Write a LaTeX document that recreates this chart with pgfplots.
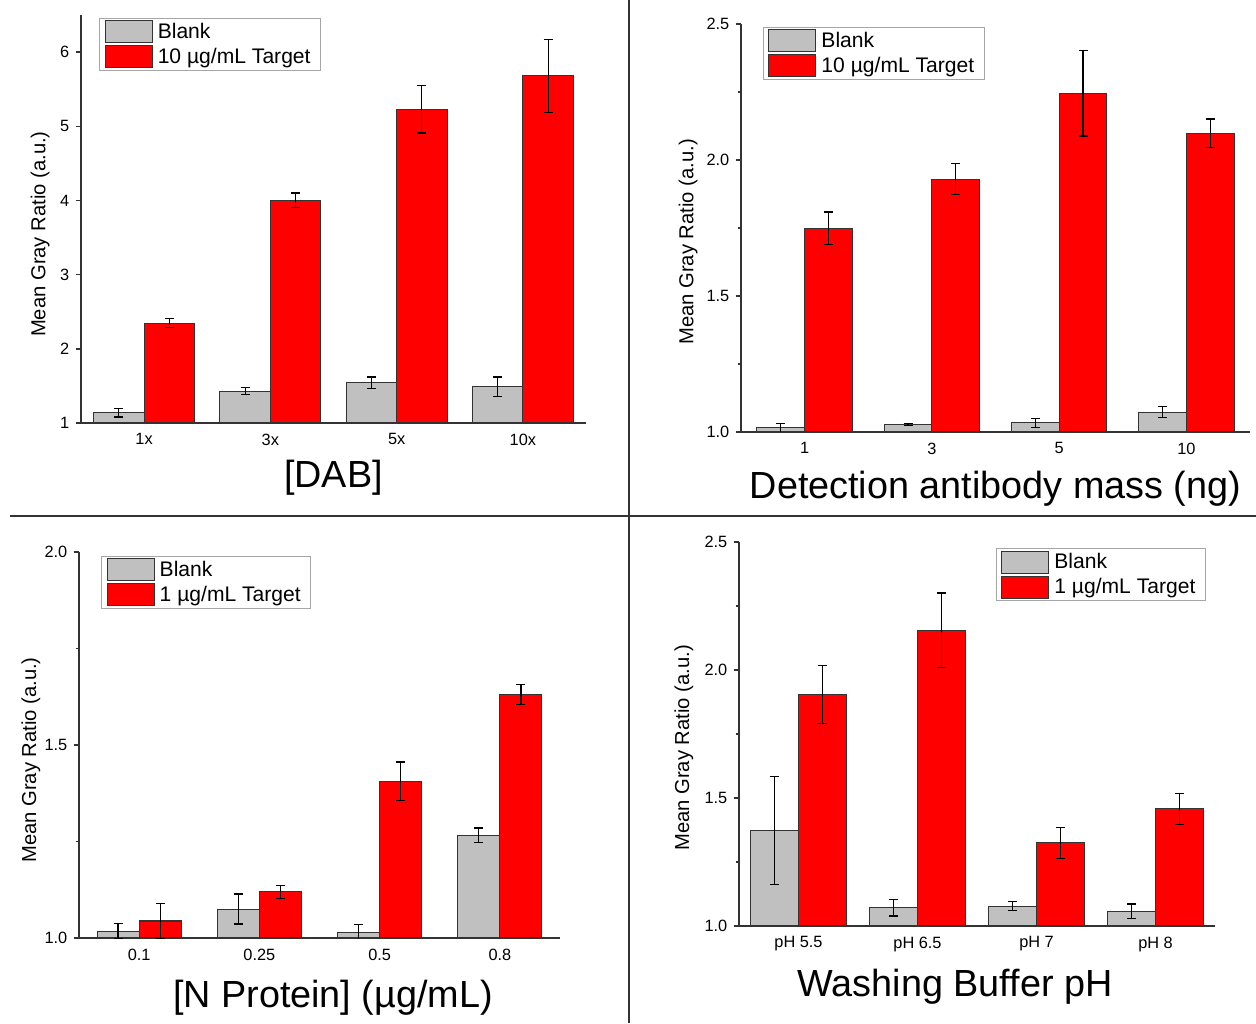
\documentclass[border=0pt]{standalone}
\usepackage{fontspec}
\setmainfont{Liberation Sans}
\usepackage{pgfplots}
\pgfplotsset{compat=1.18}
\definecolor{blankgray}{HTML}{C0C0C0}
\definecolor{targetred}{HTML}{FF0000}
\definecolor{axisgray}{HTML}{333333}

\pgfplotsset{
  panel/.style={
    scale only axis,
    anchor=south west,
    axis lines*=left,
    axis line style={draw=axisgray,line width=0.9pt},
    xmin=-0.5,xmax=3.5,ymin=1,
    xtick={0,1,2,3},
    xtick style={draw=none},
    ytick style={draw=axisgray,line width=0.8pt},
    tick align=outside,
    major tick length=0.11cm,
    minor tick length=0.07cm,
    /pgf/number format/assume math mode=true,
    tick label style={font=\fontsize{9.3}{11}\selectfont},
    xticklabel style={yshift=0.02cm},
    ylabel={Mean Gray Ratio (a.u.)},
    y label style={font=\fontsize{11.5}{13}\selectfont,anchor=center},
    x label style={font=\fontsize{21.5}{24}\selectfont,anchor=center},
    legend cell align=left,
    legend image code/.code={\draw[#1,draw=axisgray,line width=0.6pt] (0cm,-0.22cm) rectangle (0.94cm,0.22cm);},
    legend style={draw=gray!70,line width=0.6pt,font=\fontsize{12}{14}\selectfont,
      inner xsep=0.1cm,inner ysep=0.04cm,row sep=0.04cm,
      nodes={inner ysep=0.03cm,inner xsep=0.1cm}},
    error bars/y dir=both,
    error bars/y explicit,
    error bars/error bar style={black,line width=0.7pt},
    error bars/error mark options={rotate=90,black,mark size=0.09cm,line width=0.7pt},
  },
  blank/.style={ybar,bar shift=0pt,fill=blankgray,draw=axisgray,line width=0.6pt},
  target/.style={ybar,bar shift=0pt,fill=targetred,draw=axisgray,line width=0.6pt},
}

\begin{document}
\begin{tikzpicture}
\path[use as bounding box] (0,0) rectangle (25.12,20.46);

% panel dividers
\draw[axisgray,line width=0.7pt] (12.58,0) -- (12.58,20.46);
\draw[axisgray,line width=0.7pt] (0.2,10.14) -- (25.12,10.14);

% top left: DAB
\begin{axis}[panel,at={(1.62cm,12.0cm)},width=10.1cm,height=8.16cm,
  ymax=6.5,ytick={1,2,3,4,5,6},
  xticklabels={1x,3x,5x,10x},
  bar width=0.4,
  xlabel={[DAB]},
  x label style={at={(axis description cs:0.5,-0.135)}},
  y label style={at={(axis description cs:-0.081,0.463)}},
  legend style={at={(0.036,0.993)},anchor=north west}]
\addplot[blank] table[x=x,y=y,y error=e] {
x y e
-0.2 1.14 0.06
0.8 1.43 0.05
1.8 1.54 0.08
2.8 1.49 0.13
};
\addplot[target] table[x=x,y=y,y error=e] {
x y e
0.2 2.345 0.06
1.2 4.00 0.10
2.2 5.23 0.32
3.2 5.68 0.49
};
\legend{Blank,10 µg/mL Target}
\end{axis}

% top right: detection antibody mass
\begin{axis}[panel,at={(14.82cm,11.82cm)},width=10.18cm,height=8.16cm,
  ymax=2.5,ytick={1,1.5,2,2.5},minor ytick={1.25,1.75,2.25},
  yticklabel style={/pgf/number format/fixed,/pgf/number format/fixed zerofill,/pgf/number format/precision=1},
  xticklabels={1,3,5,10},
  bar width=0.375,
  xlabel={Detection antibody mass (ng)},
  x label style={at={(axis description cs:0.5,-0.14)}},
  y label style={at={(axis description cs:-0.104,0.466)}},
  legend style={at={(0.043,0.993)},anchor=north west}]
\addplot[blank] table[x=x,y=y,y error=e] {
x y e
-0.1875 1.015 0.017
0.8125 1.027 0.003
1.8125 1.034 0.017
2.8125 1.073 0.020
};
\addplot[target] table[x=x,y=y,y error=e] {
x y e
0.1875 1.749 0.060
1.1875 1.930 0.058
2.1875 2.245 0.157
3.1875 2.099 0.052
};
\legend{Blank,10 µg/mL Target}
\end{axis}

% bottom left: N protein
\begin{axis}[panel,at={(1.58cm,1.70cm)},width=9.62cm,height=7.72cm,
  ymax=2,ytick={1,1.5,2},minor ytick={1.25,1.75},
  yticklabel style={/pgf/number format/fixed,/pgf/number format/fixed zerofill,/pgf/number format/precision=1},
  xticklabels={0.1,0.25,0.5,0.8},
  bar width=0.35,
  xlabel={[N Protein] (µg/mL)},
  x label style={at={(axis description cs:0.528,-0.155)}},
  y label style={at={(axis description cs:-0.1,0.461)}},
  legend style={at={(0.046,0.99)},anchor=north west}]
\addplot[blank] table[x=x,y=y,y error=e] {
x y e
-0.175 1.018 0.019
0.825 1.075 0.039
1.825 1.015 0.020
2.825 1.266 0.019
};
\addplot[target] table[x=x,y=y,y error=e] {
x y e
0.175 1.044 0.045
1.175 1.120 0.017
2.175 1.406 0.050
3.175 1.630 0.026
};
\legend{Blank,1 µg/mL Target}
\end{axis}

% bottom right: washing buffer pH
\begin{axis}[panel,at={(14.78cm,1.94cm)},width=9.52cm,height=7.68cm,
  ymax=2.5,ytick={1,1.5,2,2.5},minor ytick={1.25,1.75,2.25},
  yticklabel style={/pgf/number format/fixed,/pgf/number format/fixed zerofill,/pgf/number format/precision=1},
  xticklabels={pH 5.5,pH 6.5,pH 7,pH 8},
  bar width=0.4,
  xlabel={Washing Buffer pH},
  x label style={at={(axis description cs:0.454,-0.159)}},
  y label style={at={(axis description cs:-0.116,0.464)}},
  legend style={at={(0.981,0.984)},anchor=north east}]
\addplot[blank] table[x=x,y=y,y error=e] {
x y e
-0.2 1.373 0.212
0.8 1.071 0.032
1.8 1.078 0.018
2.8 1.058 0.028
};
\addplot[target] table[x=x,y=y,y error=e] {
x y e
0.2 1.904 0.113
1.2 2.156 0.145
2.2 1.325 0.060
3.2 1.458 0.060
};
\legend{Blank,1 µg/mL Target}
\end{axis}
\end{tikzpicture}
\end{document}
